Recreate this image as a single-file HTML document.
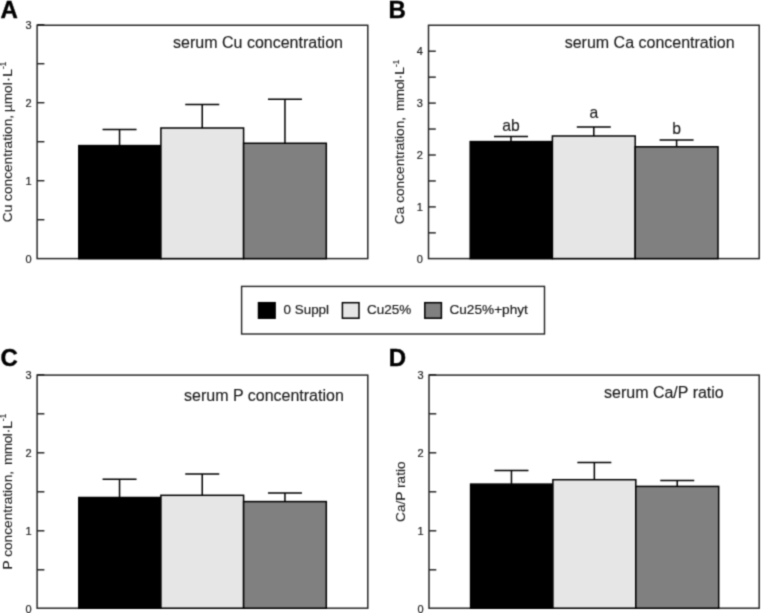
<!DOCTYPE html>
<html><head><meta charset="utf-8"><title>Figure</title>
<style>
html,body{margin:0;padding:0;background:#fff;}
body{width:761px;height:613px;overflow:hidden;}
svg{display:block;}
svg text{font-family:"Liberation Sans",sans-serif;}
</style></head><body>
<svg width="761" height="613" viewBox="0 0 761 613">
<defs><filter id="soft" x="0" y="0" width="761" height="613" filterUnits="userSpaceOnUse" color-interpolation-filters="sRGB"><feConvolveMatrix order="3" kernelMatrix="0.0324 0.1152 0.0324 0.1152 0.4096 0.1152 0.0324 0.1152 0.0324" divisor="1" edgeMode="duplicate" preserveAlpha="false"/></filter></defs>
<rect width="761" height="613" fill="#fff"/>
<g filter="url(#soft)">
<rect width="761" height="613" fill="#fff"/>
<rect x="37.1" y="25.25" width="330.70" height="233.35" fill="none" stroke="#222" stroke-width="1.45"/>
<line x1="37.1" x2="44.4" y1="219.70" y2="219.70" stroke="#222" stroke-width="1.45"/>
<line x1="37.1" x2="44.4" y1="180.70" y2="180.70" stroke="#222" stroke-width="1.45"/>
<line x1="37.1" x2="44.4" y1="141.70" y2="141.70" stroke="#222" stroke-width="1.45"/>
<line x1="37.1" x2="44.4" y1="102.70" y2="102.70" stroke="#222" stroke-width="1.45"/>
<line x1="37.1" x2="44.4" y1="63.70" y2="63.70" stroke="#222" stroke-width="1.45"/>
<line x1="37.1" x2="44.4" y1="24.70" y2="24.70" stroke="#222" stroke-width="1.45"/>
<text x="31.6" y="262.70" font-size="11" text-anchor="end" fill="#1c1c1c" stroke="#1c1c1c" stroke-width="0.2">0</text>
<text x="31.6" y="184.70" font-size="11" text-anchor="end" fill="#1c1c1c" stroke="#1c1c1c" stroke-width="0.2">1</text>
<text x="31.6" y="106.70" font-size="11" text-anchor="end" fill="#1c1c1c" stroke="#1c1c1c" stroke-width="0.2">2</text>
<text x="31.6" y="28.70" font-size="11" text-anchor="end" fill="#1c1c1c" stroke="#1c1c1c" stroke-width="0.2">3</text>
<line x1="119.55" x2="119.55" y1="145.6" y2="129.5" stroke="#000" stroke-width="1.5"/>
<line x1="102.55" x2="136.55" y1="129.5" y2="129.5" stroke="#000" stroke-width="1.5"/>
<rect x="78.80" y="145.6" width="82.10" height="113.00" fill="#000" stroke="#000" stroke-width="1.5"/>
<line x1="202.25" x2="202.25" y1="128" y2="104.5" stroke="#000" stroke-width="1.5"/>
<line x1="185.25" x2="219.25" y1="104.5" y2="104.5" stroke="#000" stroke-width="1.5"/>
<rect x="160.90" y="128" width="82.70" height="130.60" fill="#e6e6e6" stroke="#000" stroke-width="1.5"/>
<line x1="284.95" x2="284.95" y1="143.25" y2="99.25" stroke="#000" stroke-width="1.5"/>
<line x1="267.95" x2="301.95" y1="99.25" y2="99.25" stroke="#000" stroke-width="1.5"/>
<rect x="243.60" y="143.25" width="82.70" height="115.35" fill="#808080" stroke="#000" stroke-width="1.5"/>
<text x="173.1" y="48.3" font-size="16" fill="#1c1c1c" stroke="#1c1c1c" stroke-width="0.15">serum Cu concentration</text>
<text transform="translate(11.9,141.93) rotate(-90)" font-size="13.7" text-anchor="middle" fill="#1c1c1c" stroke="#1c1c1c" stroke-width="0.12">Cu concentration,<tspan dx="2.8">&#181;mol</tspan><tspan dx="0.5">&#183;</tspan><tspan dx="0.5">L</tspan><tspan font-size="8.3" dy="-5.6">-1</tspan></text>
<text x="0.6" y="18.1" font-size="24.0" font-weight="bold" fill="#000" stroke="#000" stroke-width="0.4">A</text>
<rect x="428.5" y="25.25" width="330.70" height="233.35" fill="none" stroke="#222" stroke-width="1.45"/>
<line x1="428.5" x2="435.8" y1="232.85" y2="232.85" stroke="#222" stroke-width="1.45"/>
<line x1="428.5" x2="435.8" y1="206.90" y2="206.90" stroke="#222" stroke-width="1.45"/>
<line x1="428.5" x2="435.8" y1="180.95" y2="180.95" stroke="#222" stroke-width="1.45"/>
<line x1="428.5" x2="435.8" y1="155.00" y2="155.00" stroke="#222" stroke-width="1.45"/>
<line x1="428.5" x2="435.8" y1="129.05" y2="129.05" stroke="#222" stroke-width="1.45"/>
<line x1="428.5" x2="435.8" y1="103.10" y2="103.10" stroke="#222" stroke-width="1.45"/>
<line x1="428.5" x2="435.8" y1="77.15" y2="77.15" stroke="#222" stroke-width="1.45"/>
<line x1="428.5" x2="435.8" y1="51.20" y2="51.20" stroke="#222" stroke-width="1.45"/>
<text x="422.8" y="262.80" font-size="11" text-anchor="end" fill="#1c1c1c" stroke="#1c1c1c" stroke-width="0.2">0</text>
<text x="422.8" y="210.90" font-size="11" text-anchor="end" fill="#1c1c1c" stroke="#1c1c1c" stroke-width="0.2">1</text>
<text x="422.8" y="159.00" font-size="11" text-anchor="end" fill="#1c1c1c" stroke="#1c1c1c" stroke-width="0.2">2</text>
<text x="422.8" y="107.10" font-size="11" text-anchor="end" fill="#1c1c1c" stroke="#1c1c1c" stroke-width="0.2">3</text>
<text x="422.8" y="55.20" font-size="11" text-anchor="end" fill="#1c1c1c" stroke="#1c1c1c" stroke-width="0.2">4</text>
<line x1="511.00" x2="511.00" y1="141.6" y2="136.5" stroke="#000" stroke-width="1.5"/>
<line x1="494.00" x2="528.00" y1="136.5" y2="136.5" stroke="#000" stroke-width="1.5"/>
<rect x="470.20" y="141.6" width="82.20" height="117.00" fill="#000" stroke="#000" stroke-width="1.5"/>
<text x="511.00" y="130.75" font-size="15.7" text-anchor="middle" fill="#1c1c1c" stroke="#1c1c1c" stroke-width="0.15">ab</text>
<line x1="593.80" x2="593.80" y1="136" y2="127" stroke="#000" stroke-width="1.5"/>
<line x1="576.80" x2="610.80" y1="127" y2="127" stroke="#000" stroke-width="1.5"/>
<rect x="552.40" y="136" width="82.80" height="122.60" fill="#e6e6e6" stroke="#000" stroke-width="1.5"/>
<text x="593.80" y="118.2" font-size="15.7" text-anchor="middle" fill="#1c1c1c" stroke="#1c1c1c" stroke-width="0.15">a</text>
<line x1="676.60" x2="676.60" y1="146.8" y2="140" stroke="#000" stroke-width="1.5"/>
<line x1="659.60" x2="693.60" y1="140" y2="140" stroke="#000" stroke-width="1.5"/>
<rect x="635.20" y="146.8" width="82.80" height="111.80" fill="#808080" stroke="#000" stroke-width="1.5"/>
<text x="676.60" y="133.8" font-size="15.7" text-anchor="middle" fill="#1c1c1c" stroke="#1c1c1c" stroke-width="0.15">b</text>
<text x="564.7" y="48.3" font-size="16" fill="#1c1c1c" stroke="#1c1c1c" stroke-width="0.15">serum Ca concentration</text>
<text transform="translate(404.3,141.93) rotate(-90)" font-size="13.7" text-anchor="middle" fill="#1c1c1c" stroke="#1c1c1c" stroke-width="0.12">Ca concentration, <tspan dx="2.1" letter-spacing="-0.6">mmo</tspan>l&#183;L<tspan font-size="8.3" dy="-5.6">-1</tspan></text>
<text x="388.6" y="18.1" font-size="24.0" font-weight="bold" fill="#000" stroke="#000" stroke-width="0.4">B</text>
<rect x="37.1" y="375.1" width="330.70" height="233.10" fill="none" stroke="#222" stroke-width="1.45"/>
<line x1="37.1" x2="44.4" y1="569.80" y2="569.80" stroke="#222" stroke-width="1.45"/>
<line x1="37.1" x2="44.4" y1="530.80" y2="530.80" stroke="#222" stroke-width="1.45"/>
<line x1="37.1" x2="44.4" y1="491.80" y2="491.80" stroke="#222" stroke-width="1.45"/>
<line x1="37.1" x2="44.4" y1="452.80" y2="452.80" stroke="#222" stroke-width="1.45"/>
<line x1="37.1" x2="44.4" y1="413.80" y2="413.80" stroke="#222" stroke-width="1.45"/>
<line x1="37.1" x2="44.4" y1="374.80" y2="374.80" stroke="#222" stroke-width="1.45"/>
<text x="31.6" y="612.80" font-size="11" text-anchor="end" fill="#1c1c1c" stroke="#1c1c1c" stroke-width="0.2">0</text>
<text x="31.6" y="534.80" font-size="11" text-anchor="end" fill="#1c1c1c" stroke="#1c1c1c" stroke-width="0.2">1</text>
<text x="31.6" y="456.80" font-size="11" text-anchor="end" fill="#1c1c1c" stroke="#1c1c1c" stroke-width="0.2">2</text>
<text x="31.6" y="378.80" font-size="11" text-anchor="end" fill="#1c1c1c" stroke="#1c1c1c" stroke-width="0.2">3</text>
<line x1="119.55" x2="119.55" y1="497.5" y2="479.3" stroke="#000" stroke-width="1.5"/>
<line x1="102.55" x2="136.55" y1="479.3" y2="479.3" stroke="#000" stroke-width="1.5"/>
<rect x="78.80" y="497.5" width="82.10" height="110.70" fill="#000" stroke="#000" stroke-width="1.5"/>
<line x1="202.25" x2="202.25" y1="495.3" y2="474" stroke="#000" stroke-width="1.5"/>
<line x1="185.25" x2="219.25" y1="474" y2="474" stroke="#000" stroke-width="1.5"/>
<rect x="160.90" y="495.3" width="82.70" height="112.90" fill="#e6e6e6" stroke="#000" stroke-width="1.5"/>
<line x1="284.95" x2="284.95" y1="501.6" y2="492.9" stroke="#000" stroke-width="1.5"/>
<line x1="267.95" x2="301.95" y1="492.9" y2="492.9" stroke="#000" stroke-width="1.5"/>
<rect x="243.60" y="501.6" width="82.70" height="106.60" fill="#808080" stroke="#000" stroke-width="1.5"/>
<text x="184" y="401" font-size="16" fill="#1c1c1c" stroke="#1c1c1c" stroke-width="0.15">serum P concentration</text>
<text transform="translate(11.9,491.65) rotate(-90)" font-size="13.7" text-anchor="middle" fill="#1c1c1c" stroke="#1c1c1c" stroke-width="0.12">P concentration, <tspan dx="2.1" letter-spacing="-0.6">mmo</tspan>l&#183;L<tspan font-size="8.3" dy="-5.6">-1</tspan></text>
<text x="0.6" y="366.1" font-size="24.0" font-weight="bold" fill="#000" stroke="#000" stroke-width="0.4">C</text>
<rect x="429.0" y="375.1" width="330.20" height="233.10" fill="none" stroke="#222" stroke-width="1.45"/>
<line x1="429.0" x2="436.3" y1="569.80" y2="569.80" stroke="#222" stroke-width="1.45"/>
<line x1="429.0" x2="436.3" y1="530.80" y2="530.80" stroke="#222" stroke-width="1.45"/>
<line x1="429.0" x2="436.3" y1="491.80" y2="491.80" stroke="#222" stroke-width="1.45"/>
<line x1="429.0" x2="436.3" y1="452.80" y2="452.80" stroke="#222" stroke-width="1.45"/>
<line x1="429.0" x2="436.3" y1="413.80" y2="413.80" stroke="#222" stroke-width="1.45"/>
<line x1="429.0" x2="436.3" y1="374.80" y2="374.80" stroke="#222" stroke-width="1.45"/>
<text x="423.5" y="612.80" font-size="11" text-anchor="end" fill="#1c1c1c" stroke="#1c1c1c" stroke-width="0.2">0</text>
<text x="423.5" y="534.80" font-size="11" text-anchor="end" fill="#1c1c1c" stroke="#1c1c1c" stroke-width="0.2">1</text>
<text x="423.5" y="456.80" font-size="11" text-anchor="end" fill="#1c1c1c" stroke="#1c1c1c" stroke-width="0.2">2</text>
<text x="423.5" y="378.80" font-size="11" text-anchor="end" fill="#1c1c1c" stroke="#1c1c1c" stroke-width="0.2">3</text>
<line x1="511.45" x2="511.45" y1="484.1" y2="470.5" stroke="#000" stroke-width="1.5"/>
<line x1="494.45" x2="528.45" y1="470.5" y2="470.5" stroke="#000" stroke-width="1.5"/>
<rect x="470.60" y="484.1" width="82.30" height="124.10" fill="#000" stroke="#000" stroke-width="1.5"/>
<line x1="594.35" x2="594.35" y1="479.7" y2="462.5" stroke="#000" stroke-width="1.5"/>
<line x1="577.35" x2="611.35" y1="462.5" y2="462.5" stroke="#000" stroke-width="1.5"/>
<rect x="552.90" y="479.7" width="82.90" height="128.50" fill="#e6e6e6" stroke="#000" stroke-width="1.5"/>
<line x1="677.25" x2="677.25" y1="486.4" y2="480.5" stroke="#000" stroke-width="1.5"/>
<line x1="660.25" x2="694.25" y1="480.5" y2="480.5" stroke="#000" stroke-width="1.5"/>
<rect x="635.80" y="486.4" width="82.90" height="121.80" fill="#808080" stroke="#000" stroke-width="1.5"/>
<text x="604" y="398" font-size="16" fill="#1c1c1c" stroke="#1c1c1c" stroke-width="0.15">serum Ca/P ratio</text>
<text transform="translate(404.6,491.65) rotate(-90)" font-size="13.7" text-anchor="middle" fill="#1c1c1c" stroke="#1c1c1c" stroke-width="0.12">Ca/P ratio</text>
<text x="388.7" y="366.0" font-size="24.0" font-weight="bold" fill="#000" stroke="#000" stroke-width="0.4">D</text>
<rect x="241.6" y="286.4" width="302.9" height="47.6" fill="#fff" stroke="#222" stroke-width="1.4"/>
<rect x="258.5" y="302.7" width="16.6" height="15.5" fill="#000" stroke="#000" stroke-width="1.5"/>
<text x="283.6" y="314.4" font-size="13.4" fill="#1c1c1c" stroke="#1c1c1c" stroke-width="0.2">0 Suppl</text>
<rect x="342.4" y="302.7" width="16.6" height="15.5" fill="#e6e6e6" stroke="#000" stroke-width="1.5"/>
<text x="367" y="314.4" font-size="13.5" fill="#1c1c1c" stroke="#1c1c1c" stroke-width="0.2">Cu25%</text>
<rect x="424.8" y="302.7" width="16.6" height="15.5" fill="#808080" stroke="#000" stroke-width="1.5"/>
<text x="449.4" y="314.4" font-size="13.65" fill="#1c1c1c" stroke="#1c1c1c" stroke-width="0.2">Cu25%+phyt</text>
</g>
</svg>
</body></html>
